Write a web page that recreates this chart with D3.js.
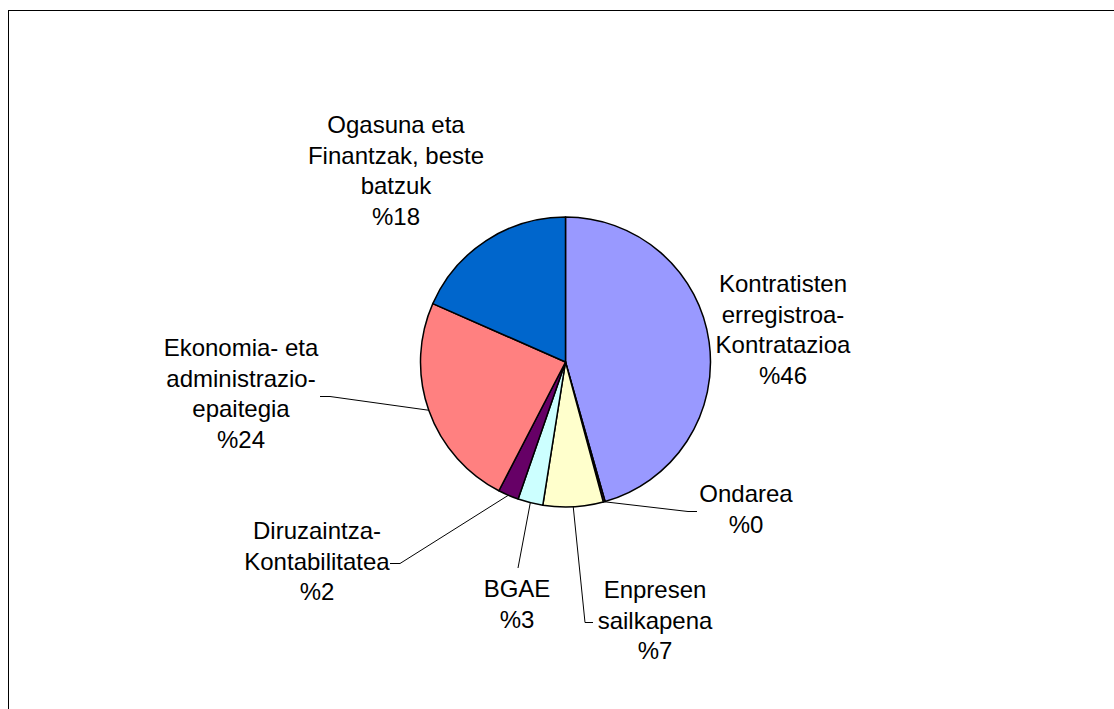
<!DOCTYPE html>
<html>
<head>
<meta charset="utf-8">
<script src="https://cdn.jsdelivr.net/npm/d3@7"></script>
<style>
  html, body { margin: 0; padding: 0; background: #fff; }
  svg { display: block; }
  .pie-label { font-family: "Liberation Sans", Arial, sans-serif; font-size: 24px; fill: #000; }
</style>
</head>
<body>
<div id="chart"></div>
<script>
// data, clockwise from 12 o'clock
const categories = [
  "Kontratisten\nerregistroa-\nKontratazioa",
  "Ondarea",
  "Enpresen\nsailkapena",
  "BGAE",
  "Diruzaintza-\nKontabilitatea",
  "Ekonomia- eta\nadministrazio-\nepaitegia",
  "Ogasuna eta\nFinantzak, beste\nbatzuk"
];
const shares = [45.6, 0.2, 6.7, 2.8, 2.3, 24.0, 18.4];
const sliceColors = ["#9999ff", "#993366", "#ffffcc", "#ccffff", "#660066", "#ff8080", "#0066cc"];

// label placement: text centre, first baseline, optional leader elbow and end
const labelLayout = [
  { x: 783, y: 292 },
  { x: 746, y: 502, elbow: [688, 511.5], end: [697, 511.5] },
  { x: 655, y: 598, elbow: [585, 622.5], end: [593, 622.5] },
  { x: 517, y: 597, elbow: [518, 568], end: [518, 568] },
  { x: 317, y: 539, elbow: [400, 563.5], end: [390, 563.5] },
  { x: 241, y: 356, elbow: [330, 396.5], end: [320, 396.5] },
  { x: 396, y: 133 }
];

const width = 1114;
const height = 709;
const cx = 565.5;
const cy = 362;
const radius = 145;
const lineStep = 30.7;

const svg = d3.select("#chart").append("svg")
  .attr("width", width)
  .attr("height", height);

// chart frame (runs off the right and bottom edges)
svg.append("rect")
  .attr("x", 8.5)
  .attr("y", 10.5)
  .attr("width", width + 20)
  .attr("height", height + 20)
  .attr("fill", "none")
  .attr("stroke", "#000")
  .attr("stroke-width", 1);

const rows = categories.map((name, i) => ({ name, value: shares[i], color: sliceColors[i], layout: labelLayout[i] }));

const pie = d3.pie().sort(null).value((d) => d.value);
const arcs = pie(rows);
const arc = d3.arc().innerRadius(0).outerRadius(radius);

const plot = svg.append("g").attr("transform", `translate(${cx},${cy})`);

plot.selectAll("path.slice")
  .data(arcs)
  .join("path")
  .attr("class", "slice")
  .attr("d", arc)
  .attr("fill", (d) => d.data.color)
  .attr("stroke", "#000")
  .attr("stroke-width", 1.5)
  .attr("stroke-linejoin", "round");

// leader lines from the slice edge to the label
svg.append("g")
  .selectAll("polyline")
  .data(arcs.filter((d) => d.data.layout.elbow))
  .join("polyline")
  .attr("fill", "none")
  .attr("stroke", "#000")
  .attr("stroke-width", 1)
  .attr("points", (d) => {
    const mid = (d.startAngle + d.endAngle) / 2;
    const sx = cx + radius * Math.sin(mid);
    const sy = cy - radius * Math.cos(mid);
    const { elbow, end } = d.data.layout;
    return [[sx, sy], elbow, end].map((p) => p.join(",")).join(" ");
  });

const labels = svg.append("g")
  .selectAll("text")
  .data(arcs)
  .join("text")
  .attr("class", "pie-label")
  .attr("text-anchor", "middle");

labels.each(function (d) {
  const lines = d.data.name.split("\n").concat("%" + Math.round(d.data.value));
  d3.select(this).selectAll("tspan")
    .data(lines)
    .join("tspan")
    .attr("x", d.data.layout.x)
    .attr("y", (_, i) => d.data.layout.y + i * lineStep)
    .text((t) => t);
});
</script>
</body>
</html>
